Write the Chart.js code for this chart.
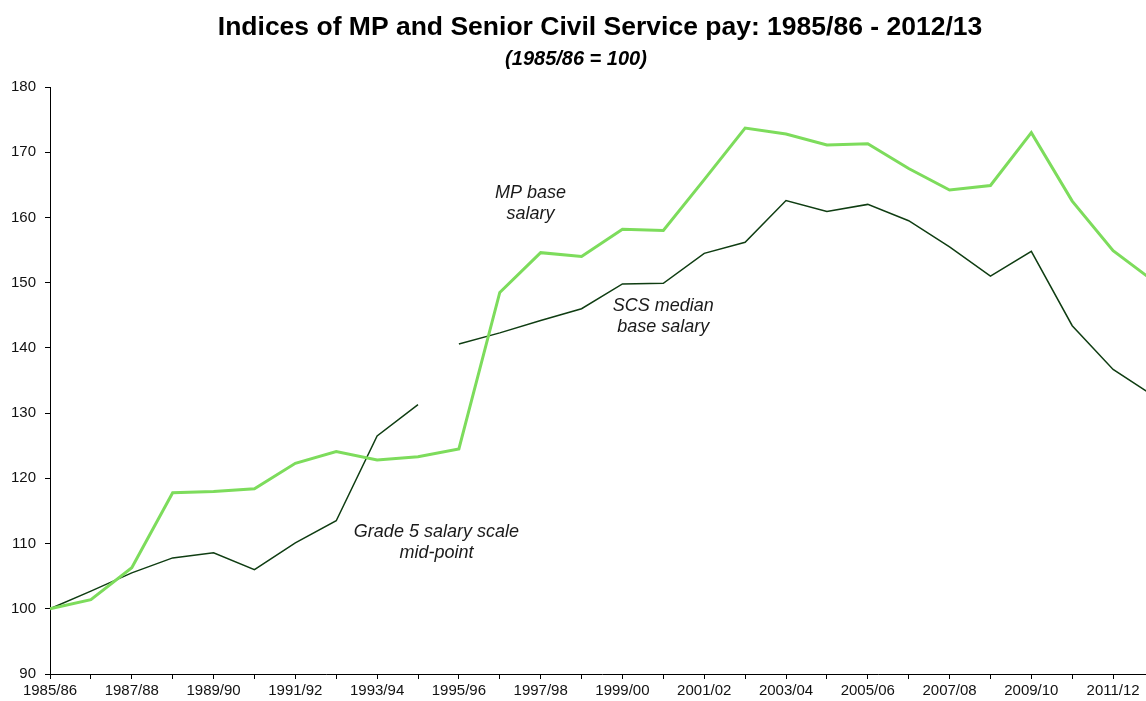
<!DOCTYPE html>
<html>
<head>
<meta charset="utf-8">
<script src="https://cdn.jsdelivr.net/npm/chart.js@4/dist/chart.umd.min.js"></script>
<style>
  body { margin: 0; overflow: hidden; background: #fff; }
  #wrap { width: 1200px; height: 701px; }
</style>
</head>
<body>
<div id="wrap"><canvas id="payChart" width="1200" height="701"></canvas></div>
<script>
// Financial years on the x axis
const years = ["1985/86", "1986/87", "1987/88", "1988/89", "1989/90", "1990/91",
  "1991/92", "1992/93", "1993/94", "1994/95", "1995/96", "1996/97", "1997/98",
  "1998/99", "1999/00", "2000/01", "2001/02", "2002/03", "2003/04", "2004/05",
  "2005/06", "2006/07", "2007/08", "2008/09", "2009/10", "2010/11", "2011/12",
  "2012/13"];

// Index values, 1985/86 = 100
const mpPay = [100, 101.4, 106.3, 117.8, 118.0, 118.4, 122.3, 124.1, 122.8, 123.3,
  124.5, 148.5, 154.6, 154.0, 158.2, 158.0, 165.8, 173.7, 172.8, 171.1, 171.3,
  167.5, 164.2, 164.9, 173.0, 162.5, 154.9, 150.2];
const grade5Pay = [100, 102.7, 105.5, 107.8, 108.6, 106.0, 110.1, 113.5, 126.5, 131.3,
  null, null, null, null, null, null, null, null, null, null, null, null, null,
  null, null, null, null, null];
const scsPay = [null, null, null, null, null, null, null, null, null, null,
  140.6, 142.3, 144.2, 146.0, 149.8, 149.9, 154.5, 156.2, 162.6, 160.9, 162.0,
  159.5, 155.5, 151.0, 154.8, 143.4, 136.7, 132.6];

const yTicks = [90, 100, 110, 120, 130, 140, 150, 160, 170, 180];

const titleText = "Indices of MP and Senior Civil Service pay: 1985/86 - 2012/13";
const subtitleText = "(1985/86 = 100)";

// Series labels written on the chart (anchored in data units)
const notes = [
  { lines: ["MP base", "salary"], at: 11.75, value: 162.2 },
  { lines: ["SCS median", "base salary"], at: 15.0, value: 144.8 },
  { lines: ["Grade 5 salary scale", "mid-point"], at: 9.45, value: 110.2 }
];

const lightGreen = "#7ddc5c";
const darkGreen = "#0f3d12";
const fontName = "'Liberation Sans', Arial, sans-serif";

// title is centred on the whole (wider than window) canvas, like the original;
// the subtitle sits a little left of it
const headingPlugin = {
  id: "heading",
  afterDraw(chart) {
    const ctx = chart.ctx;
    const cx = chart.width / 2;
    ctx.save();
    ctx.fillStyle = "#000";
    ctx.textAlign = "center";
    ctx.textBaseline = "middle";
    ctx.font = "bold 26.5px " + fontName;
    ctx.fillText(titleText, cx, 28);
    ctx.font = "italic bold 20px " + fontName;
    ctx.fillText(subtitleText, cx - 24, 59);
    ctx.restore();
  }
};

// draws the in-chart labels
const notesPlugin = {
  id: "notes",
  afterDatasetsDraw(chart) {
    const ctx = chart.ctx;
    const xs = chart.scales.x, ys = chart.scales.y;
    ctx.save();
    ctx.font = "italic 18px " + fontName;
    ctx.fillStyle = "#1a1a1a";
    ctx.textAlign = "center";
    ctx.textBaseline = "middle";
    for (let n of notes) {
      const cx = xs.getPixelForValue(n.at);
      const cy = ys.getPixelForValue(n.value);
      const lh = 21;
      const top = cy - (n.lines.length - 1) * lh / 2;
      n.lines.forEach((t, i) => ctx.fillText(t, cx, top + i * lh));
    }
    ctx.restore();
  }
};

let ctx = document.getElementById("payChart").getContext("2d");

let chart = new Chart(ctx, {
  type: "line",
  data: {
    labels: years,
    datasets: [
      { label: "MP base salary", data: mpPay, borderColor: lightGreen, borderWidth: 3 },
      { label: "Grade 5 salary scale mid-point", data: grade5Pay, borderColor: darkGreen, borderWidth: 1.5 },
      { label: "SCS median base salary", data: scsPay, borderColor: darkGreen, borderWidth: 1.5 }
    ]
  },
  options: {
    responsive: false,
    animation: false,
    devicePixelRatio: 1,
    layout: { padding: { left: 0, right: 46, top: 87, bottom: 0 } },
    elements: {
      point: { radius: 0 },
      line: { tension: 0, spanGaps: false, borderJoinStyle: "miter" }
    },
    plugins: {
      legend: { display: false },
      tooltip: { enabled: false },
      title: { display: false }
    },
    scales: {
      x: {
        offset: false,
        grid: { display: true, drawOnChartArea: false, tickLength: 5, color: "#000", tickColor: "#000" },
        border: { display: true, color: "#000", width: 1 },
        ticks: {
          autoSkip: false,
          maxRotation: 0,
          padding: 3,
          color: "#111",
          font: { family: fontName, size: 15 },
          callback: function (val, i) { return i % 2 === 0 ? years[i] : ""; }
        },
        afterFit: function (scale) { scale.height = 27; }
      },
      y: {
        min: 90,
        max: 180,
        afterBuildTicks: function (scale) { scale.ticks = yTicks.map(v => ({ value: v })); },
        grid: { display: true, drawOnChartArea: false, tickLength: 5, color: "#000", tickColor: "#000" },
        border: { display: true, color: "#000", width: 1 },
        ticks: {
          padding: 9,
          color: "#111",
          font: { family: fontName, size: 15 }
        },
        afterFit: function (scale) { scale.width = 50; }
      }
    }
  },
  plugins: [notesPlugin, headingPlugin]
});
</script>
</body>
</html>
